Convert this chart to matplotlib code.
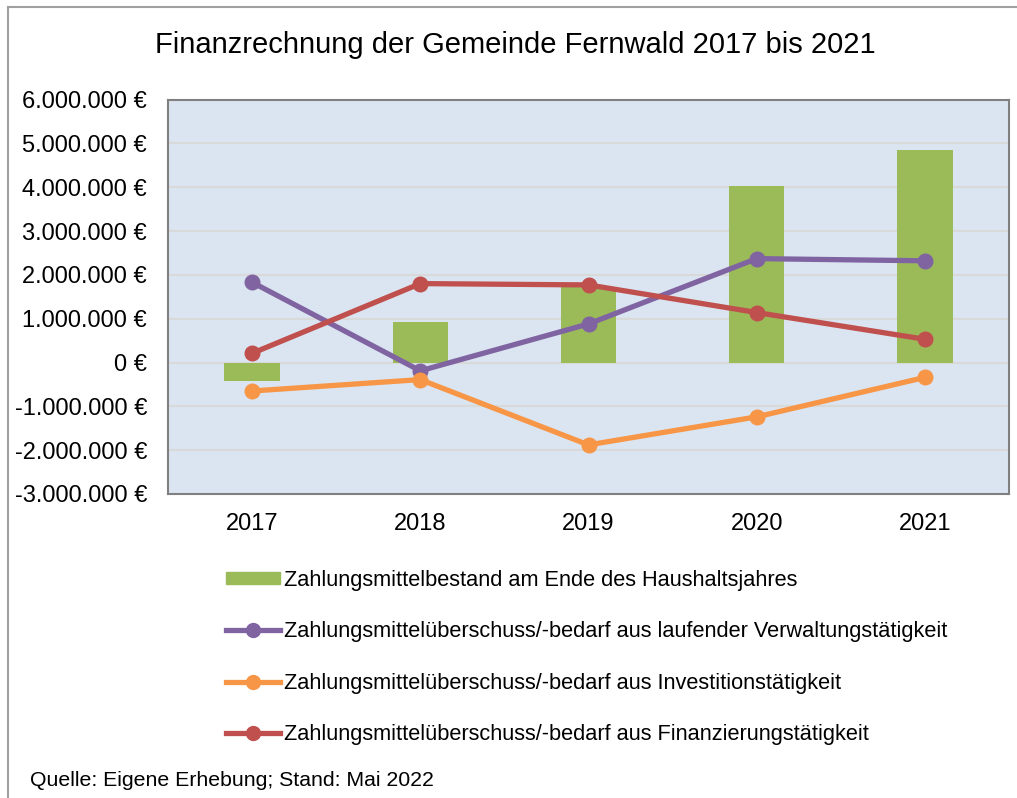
import matplotlib
matplotlib.use('Agg')
import matplotlib.pyplot as plt
from matplotlib.lines import Line2D
from matplotlib.patches import Rectangle
from matplotlib.ticker import FuncFormatter
import numpy as np

plt.rcParams['font.family'] = ['Liberation Sans', 'DejaVu Sans']

years = ['2017', '2018', '2019', '2020', '2021']
bestand = [-420000, 930000, 1720000, 4020000, 4850000]
verwaltung = [1830000, -190000, 880000, 2370000, 2320000]
investition = [-650000, -390000, -1880000, -1240000, -340000]
finanzierung = [210000, 1800000, 1770000, 1140000, 530000]

labels = [
    'Zahlungsmittelbestand am Ende des Haushaltsjahres',
    'Zahlungsmittelüberschuss/-bedarf aus laufender Verwaltungstätigkeit',
    'Zahlungsmittelüberschuss/-bedarf aus Investitionstätigkeit',
    'Zahlungsmittelüberschuss/-bedarf aus Finanzierungstätigkeit',
]

c_green = '#9BBB59'
c_purple = '#8064A2'
c_orange = '#F79646'
c_red = '#C0504D'

fig = plt.figure(figsize=(10.17, 7.98), dpi=100)
ax = fig.add_axes([168 / 1017, 1 - 494 / 798, (1009 - 168) / 1017, (494 - 99.5) / 798])
ax.set_facecolor('#DBE5F1')

x = np.arange(len(years))
ax.bar(x, bestand, width=0.33, color=c_green, zorder=2)
for vals, col in [(verwaltung, c_purple), (investition, c_orange), (finanzierung, c_red)]:
    ax.plot(x, vals, color=col, linewidth=3.8, marker='o', markersize=10.5,
            solid_capstyle='round', zorder=3)

ax.set_xlim(-0.5, len(years) - 0.5)
ax.set_ylim(-3000000, 6000000)
ax.set_yticks(np.arange(-3000000, 6000001, 1000000))
ax.yaxis.set_major_formatter(FuncFormatter(lambda v, p: f'{int(v):,} €'.replace(',', '.')))
ax.set_xticks(x)
ax.set_xticklabels(years)
ax.tick_params(axis='both', length=0, labelsize=17, colors='black')
ax.tick_params(axis='y', pad=15)
ax.tick_params(axis='x', pad=14)
ax.grid(axis='y', color='#D9D9D9', linewidth=1.5, zorder=0)
ax.set_axisbelow(True)
for s in ax.spines.values():
    s.set_color('#808080')
    s.set_linewidth(1.5)

fig.text(0.507, 1 - 45 / 798, 'Finanzrechnung der Gemeinde Fernwald 2017 bis 2021',
         ha='center', va='center', fontsize=21)

handles = [
    Rectangle((0, 0), 1, 1, color=c_green),
    Line2D([], [], color=c_purple, linewidth=3.8, marker='o', markersize=10),
    Line2D([], [], color=c_orange, linewidth=3.8, marker='o', markersize=10),
    Line2D([], [], color=c_red, linewidth=3.8, marker='o', markersize=10),
]
fig.legend(handles, labels, loc='upper left', bbox_to_anchor=(215 / 1017, 1 - 559 / 798),
           frameon=False, fontsize=15.7, labelspacing=1.39, handlelength=2.5,
           handleheight=0.5, handletextpad=0.15, borderpad=0)

fig.text(30 / 1017, 1 - 780 / 798, 'Quelle: Eigene Erhebung; Stand: Mai 2022',
         ha='left', va='center', fontsize=15.3)

# outer frame
fig.add_artist(Line2D([8 / 1017, 1], [1 - 7 / 798, 1 - 7 / 798], color='#A0A0A0', linewidth=1.5))
fig.add_artist(Line2D([8 / 1017, 8 / 1017], [0, 1 - 7 / 798], color='#A0A0A0', linewidth=1.5))

fig.savefig('out.png', dpi=100)
